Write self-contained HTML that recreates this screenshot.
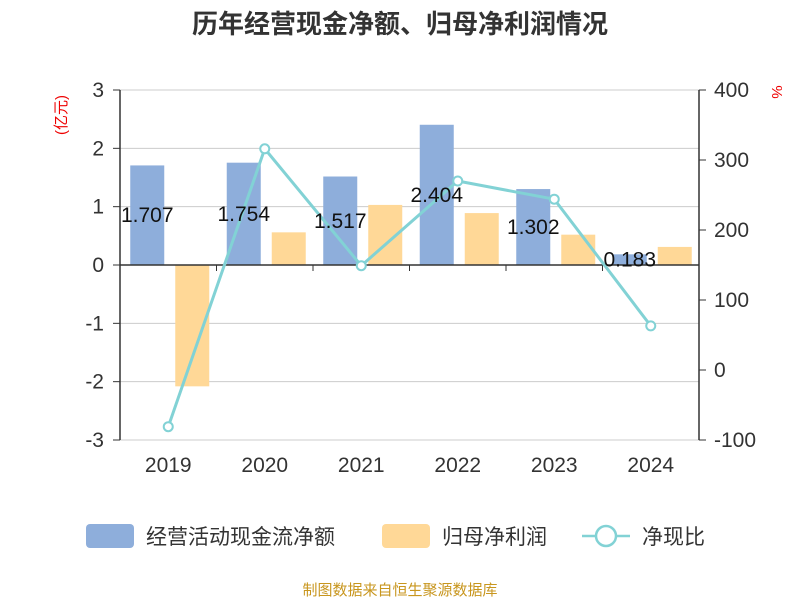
<!DOCTYPE html>
<html><head><meta charset="utf-8"><style>
body{margin:0;background:#fff;}
svg text{font-family:"Liberation Sans","Noto Sans CJK SC",sans-serif;}
</style></head><body>
<svg id="c" width="800" height="600" xmlns="http://www.w3.org/2000/svg">
<text x="400" y="33" text-anchor="middle" font-size="26" font-weight="bold" fill="#333">历年经营现金净额、归母净利润情况</text>
<text transform="translate(66,115) rotate(-90)" text-anchor="middle" font-size="15" fill="#e00">(亿元)</text>
<text transform="translate(772,92) rotate(90)" text-anchor="middle" font-size="15" fill="#e00">%</text>
<g id="grid"></g><g id="bars"></g><g id="axes"></g><g id="line"></g><g id="labels"></g>
<g>
<rect x="86" y="524" width="48" height="24" rx="4" fill="#8eaedb"/>
<text x="146" y="544" font-size="21" fill="#333">经营活动现金流净额</text>
<rect x="382" y="524" width="48" height="24" rx="4" fill="#ffd897"/>
<text x="442" y="544" font-size="21" fill="#333">归母净利润</text>
<line x1="582" y1="536" x2="630" y2="536" stroke="#82d2d5" stroke-width="2.5"/>
<circle cx="606" cy="536" r="10" fill="#fff" stroke="#82d2d5" stroke-width="2.5"/>
<text x="642" y="544" font-size="21" fill="#333">净现比</text>
</g>
<text x="400" y="595" text-anchor="middle" font-size="15" fill="#c8961e">制图数据来自恒生聚源数据库</text>
</svg>
<script>
const categories=["2019","2020","2021","2022","2023","2024"];
const cashflow=[1.707,1.754,1.517,2.404,1.302,0.183];
const profit=[-2.08,0.56,1.03,0.89,0.52,0.31];
const ratio=[-81,316,149,270,244,63];
const leftTicks=[3,2,1,0,-1,-2,-3];
const rightTicks=[400,300,200,100,0,-100];
const NS="http://www.w3.org/2000/svg";
const X0=120,X1=699,bw=(X1-X0)/categories.length;
const yL=v=>265-v*58.333;
const yR=v=>370-v*0.7;
const xC=i=>X0+bw*(i+0.5);
function mk(p,t,a){const e=document.createElementNS(NS,t);for(const k in a)e.setAttribute(k,a[k]);document.getElementById(p).appendChild(e);return e;}
leftTicks.forEach(v=>{
 if(v!==0){const g=mk("grid","line",{x1:X0,x2:X1,y1:yL(v),y2:yL(v),stroke:"#ccc","stroke-width":1});
 
 }
 const tk=mk("axes","line",{x1:X0-7,x2:X0,y1:yL(v),y2:yL(v),stroke:"#333"});
 
 
 const t=mk("axes","text",{x:104,y:yL(v)+7,"text-anchor":"end","font-size":21,fill:"#333"});t.textContent=v;
 
 
});
rightTicks.forEach(v=>{
 const tk=mk("axes","line",{x1:X1,x2:X1+7,y1:yR(v),y2:yR(v),stroke:"#333"});
 
 
 const t=mk("axes","text",{x:714,y:yR(v)+7,"font-size":21,fill:"#333"});t.textContent=v;
 
 
});
let a=mk("axes","line",{x1:X0,x2:X0,y1:90,y2:440,stroke:"#333","stroke-width":1.5});


a=mk("axes","line",{x1:X1,x2:X1,y1:90,y2:440,stroke:"#333","stroke-width":1.5});


a=mk("axes","line",{x1:X0,x2:X1,y1:yL(0),y2:yL(0),stroke:"#333","stroke-width":1.5});


categories.forEach((c,i)=>{
 const tk=mk("axes","line",{x1:X0+bw*i,x2:X0+bw*i,y1:265,y2:271,stroke:"#333"});
 
 
 const t=mk("axes","text",{x:xC(i),y:472,"text-anchor":"middle","font-size":21,fill:"#333"});t.textContent=c;
 
 
 const b1=mk("bars","rect",{x:xC(i)-38,width:34,y:Math.min(yL(0),yL(cashflow[i])),height:Math.abs(yL(cashflow[i])-yL(0)),fill:"#8eaedb"});
 
 
 const b2=mk("bars","rect",{x:xC(i)+7,width:34,y:Math.min(yL(0),yL(profit[i])),height:Math.abs(yL(profit[i])-yL(0)),fill:"#ffd897"});
 
 
 const l=mk("labels","text",{x:xC(i)-21,y:(yL(0)+yL(cashflow[i]))/2+7,"text-anchor":"middle","font-size":21,fill:"#111"});l.textContent=cashflow[i];
 
 
});
const pl=mk("line","polyline",{points:ratio.map((v,i)=>xC(i)+","+yR(v)).join(" "),fill:"none",stroke:"#82d2d5","stroke-width":3});


ratio.forEach((v,i)=>{
 const p=mk("line","circle",{cx:xC(i),cy:yR(v),r:4.5,fill:"#fff",stroke:"#82d2d5","stroke-width":2});
 
 
});
</script>
</body></html>
